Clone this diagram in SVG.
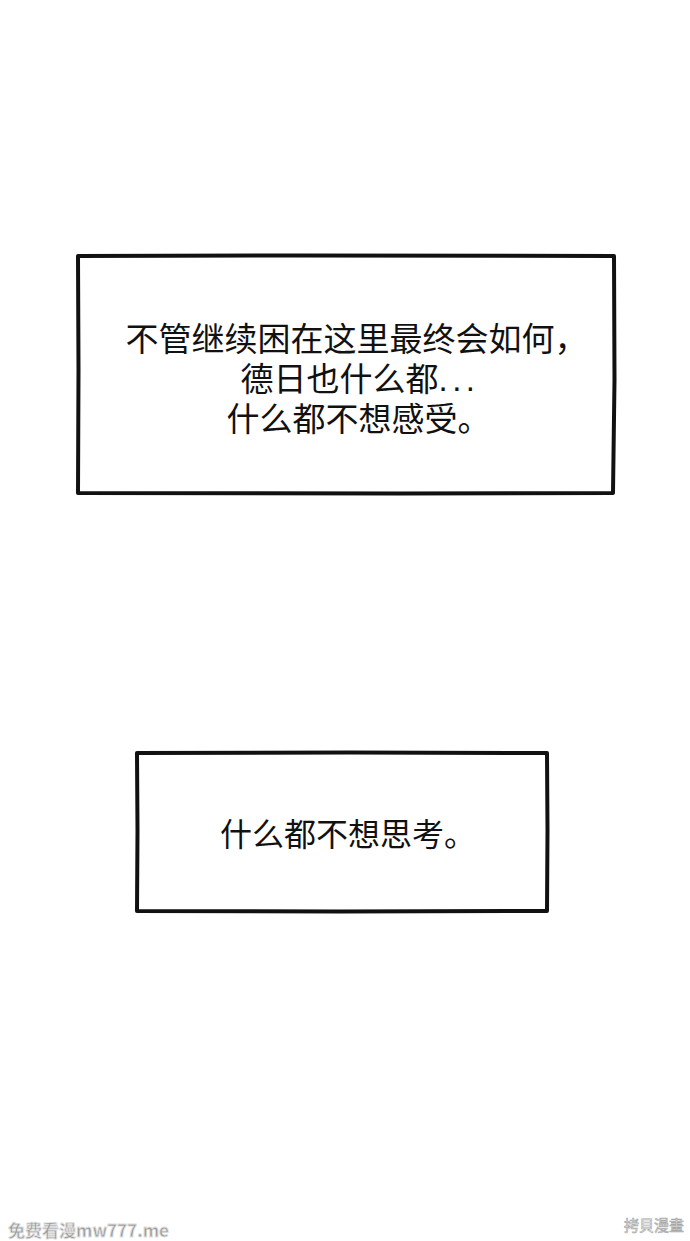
<svg xmlns="http://www.w3.org/2000/svg" width="690" height="1241" viewBox="0 0 690 1241">
  <style>
    .box { fill: #ffffff; stroke: #111111; stroke-width: 4; stroke-linejoin: round; stroke-linecap: round; }
    .txt { font-family: "Noto Sans CJK SC", "Noto Sans", sans-serif; font-size: 33px; fill: #111111; }
    .txt2 { font-family: "Noto Sans CJK SC", "Noto Sans", sans-serif; font-size: 32px; fill: #111111; }
    .wm1 { font-family: "Noto Sans CJK SC", "Liberation Sans", sans-serif; font-weight: bold; font-size: 17px; fill: #9a9a9a; stroke: #e0e0e0; stroke-width: 0.8; }
    .wm2 { font-family: "Noto Sans CJK TC", "Noto Sans CJK SC", sans-serif; font-size: 15px; fill: #ffffff; stroke: #a8a8a8; stroke-width: 0.7; }
  </style>
  <rect x="0" y="0" width="690" height="1241" fill="#ffffff"/>
  <g id="box1">
    <path class="box" d="M78,256 L300,255.5 L614,256 L614.5,380 L613,493 L400,493.5 L78,493 L78.5,370 Z"/>
    <text class="txt" x="125.5" y="351">不管继续困在这里最终会如何，</text>
    <text class="txt" x="240.5" y="391">德日也什么都<tspan font-family="Liberation Sans" letter-spacing="4.5">...</tspan></text>
    <text class="txt" x="226.5" y="431">什么都不想感受。</text>
  </g>
  <g id="box2">
    <path class="box" d="M137,753 L350,752.5 L547,753 L547.5,830 L547,911 L340,911.5 L137,911 L137.5,830 Z"/>
    <text class="txt2" x="220" y="846">什么都不想思考。</text>
  </g>
  <g id="connectors"></g>
  <g id="watermarks">
    <text class="wm1" x="8" y="1237">免费看漫mw777.me</text>
    <text class="wm2" x="624" y="1231">拷貝漫畫</text>
  </g>
</svg>
